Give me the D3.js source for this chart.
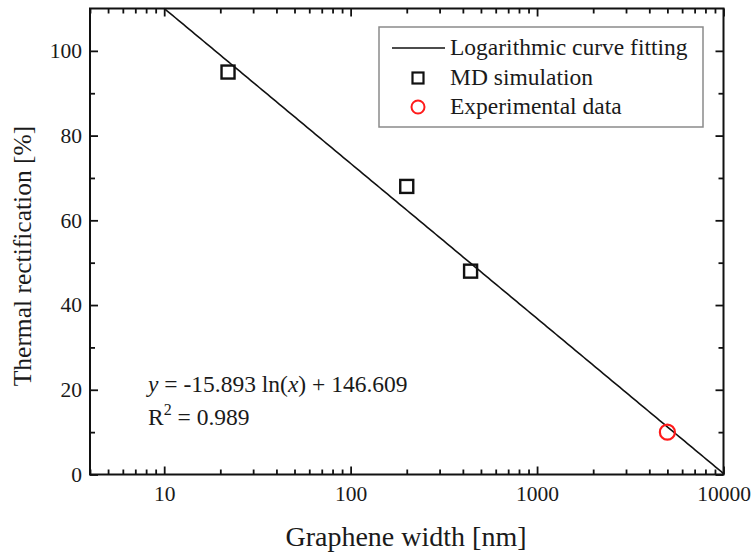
<!DOCTYPE html>
<html>
<head>
<meta charset="utf-8">
<script src="https://cdn.jsdelivr.net/npm/d3@7"></script>
<style>
  html, body { margin: 0; padding: 0; background: #fff; }
  svg { display: block; }
</style>
</head>
<body>
<svg id="chart" width="753" height="552"></svg>
<script>
// Thermal rectification vs. graphene width
const mdWidth = [22, 200, 440];          // nm
const mdRect = [95, 68, 48];             // %
const expWidth = [5000];
const expRect = [10];
const fitA = -15.893, fitB = 146.609;    // y = a ln(x) + b
const fitRange = [10, 10000];
const xTickValues = [10, 100, 1000, 10000];
const yTickValues = [0, 20, 40, 60, 80, 100];
const yMinorValues = [10, 30, 50, 70, 90];
const legendLabels = ["Logarithmic curve fitting", "MD simulation", "Experimental data"];

const SERIF = "'Liberation Serif', 'Times New Roman', 'DejaVu Serif', serif";

const svg = d3.select("#chart");
const m = { left: 90, right: 723.5, top: 8.5, bottom: 474.5 };

const x = d3.scaleLog().domain([4, 10000]).range([m.left, m.right]);
const y = d3.scaleLinear().domain([0, 110]).range([m.bottom, m.top]);

// minor ticks on the log axis
const xMinor = [];
for (let d = 1; d <= 1000; d *= 10)
  for (let k = 2; k <= 9; k++) { const v = d * k; if (v >= 4 && v <= 10000) xMinor.push(v); }

const majorLen = 8, minorLen = 5;

function styleAxis(g) {
  g.attr("font-family", SERIF);
  g.select(".domain").remove();
  g.selectAll("line").attr("stroke", "#111").attr("stroke-width", 1.8);
  g.selectAll("text").attr("font-size", 21.5).attr("fill", "#1a1a1a");
}

// bottom axis
svg.append("g").attr("transform", `translate(0,${m.bottom})`)
  .call(d3.axisBottom(x).tickValues(xTickValues).tickFormat(d3.format("d")).tickSize(-majorLen).tickPadding(11))
  .call(styleAxis);
svg.append("g").attr("transform", `translate(0,${m.bottom})`)
  .call(d3.axisBottom(x).tickValues(xMinor).tickFormat("").tickSize(-minorLen))
  .call(styleAxis);
// top axis
svg.append("g").attr("transform", `translate(0,${m.top})`)
  .call(d3.axisTop(x).tickValues(xTickValues).tickFormat("").tickSize(-majorLen))
  .call(styleAxis);
svg.append("g").attr("transform", `translate(0,${m.top})`)
  .call(d3.axisTop(x).tickValues(xMinor).tickFormat("").tickSize(-minorLen))
  .call(styleAxis);
// left axis
svg.append("g").attr("transform", `translate(${m.left},0)`)
  .call(d3.axisLeft(y).tickValues(yTickValues).tickFormat(d3.format("d")).tickSize(-majorLen).tickPadding(8))
  .call(styleAxis);
svg.append("g").attr("transform", `translate(${m.left},0)`)
  .call(d3.axisLeft(y).tickValues(yMinorValues).tickFormat("").tickSize(-minorLen))
  .call(styleAxis);
// right axis
svg.append("g").attr("transform", `translate(${m.right},0)`)
  .call(d3.axisRight(y).tickValues(yTickValues).tickFormat("").tickSize(-majorLen))
  .call(styleAxis);
svg.append("g").attr("transform", `translate(${m.right},0)`)
  .call(d3.axisRight(y).tickValues(yMinorValues).tickFormat("").tickSize(-minorLen))
  .call(styleAxis);

// frame
svg.append("rect")
  .attr("x", m.left).attr("y", m.top)
  .attr("width", m.right - m.left).attr("height", m.bottom - m.top)
  .attr("fill", "none").attr("stroke", "#111").attr("stroke-width", 2);

// fitted curve
const fitPts = d3.range(0, 201).map(i => {
  const lx = Math.log10(fitRange[0]) + i / 200 * (Math.log10(fitRange[1]) - Math.log10(fitRange[0]));
  const xv = Math.pow(10, lx);
  return [xv, fitA * Math.log(xv) + fitB];
});
svg.append("path")
  .datum(fitPts)
  .attr("fill", "none").attr("stroke", "#111").attr("stroke-width", 1.6)
  .attr("d", d3.line().x(d => x(d[0])).y(d => y(d[1])));

// MD simulation points
const sq = 13;
svg.append("g").selectAll("rect")
  .data(mdWidth.map((w, i) => [w, mdRect[i]]))
  .join("rect")
  .attr("x", d => x(d[0]) - sq / 2).attr("y", d => y(d[1]) - sq / 2)
  .attr("width", sq).attr("height", sq)
  .attr("fill", "none").attr("stroke", "#111").attr("stroke-width", 2.4);

// experimental point
svg.append("g").selectAll("circle")
  .data(expWidth.map((w, i) => [w, expRect[i]]))
  .join("circle")
  .attr("cx", d => x(d[0])).attr("cy", d => y(d[1])).attr("r", 7.5)
  .attr("fill", "none").attr("stroke", "#ff1a1a").attr("stroke-width", 2.2);

// axis titles
svg.append("text")
  .attr("x", 406).attr("y", 546)
  .attr("text-anchor", "middle").attr("font-size", 28)
  .text("Graphene width [nm]");
svg.append("text")
  .attr("transform", "translate(31,256) rotate(-90)")
  .attr("text-anchor", "middle").attr("font-size", 25.5)
  .text("Thermal rectification [%]");

// fit equation
const eq = svg.append("text").attr("x", 148).attr("y", 392).attr("font-size", 23.5);
eq.append("tspan").attr("font-style", "italic").text("y");
eq.append("tspan").text(` = ${fitA} ln(`);
eq.append("tspan").attr("font-style", "italic").text("x");
eq.append("tspan").text(`) + ${fitB}`);
const r2 = svg.append("text").attr("x", 148).attr("y", 425).attr("font-size", 23.5);
r2.append("tspan").text("R");
r2.append("tspan").attr("dy", -10).attr("font-size", 16).text("2");
r2.append("tspan").attr("dy", 10).text(" = 0.989");

// legend
const lg = svg.append("g");
lg.append("rect")
  .attr("x", 379).attr("y", 27).attr("width", 324).attr("height", 100)
  .attr("fill", "#fff").attr("stroke", "#8a8a8a").attr("stroke-width", 1.5);
const rowY = [48, 78, 107];
lg.append("line").attr("x1", 392).attr("x2", 445).attr("y1", rowY[0]).attr("y2", rowY[0])
  .attr("stroke", "#111").attr("stroke-width", 1.6);
lg.append("rect").attr("x", 418 - 5.5).attr("y", rowY[1] - 5.5).attr("width", 11).attr("height", 11)
  .attr("fill", "none").attr("stroke", "#111").attr("stroke-width", 2.2);
lg.append("circle").attr("cx", 418).attr("cy", rowY[2]).attr("r", 6.5)
  .attr("fill", "none").attr("stroke", "#ff1a1a").attr("stroke-width", 2);
lg.selectAll("text.leg").data(legendLabels).join("text")
  .attr("class", "leg")
  .attr("x", 450).attr("y", (d, i) => rowY[i] + 7)
  .attr("font-size", 23.5)
  .text(d => d);

// serif face on every label
svg.selectAll("text").attr("font-family", SERIF).attr("fill", "#1a1a1a");
</script>
</body>
</html>
